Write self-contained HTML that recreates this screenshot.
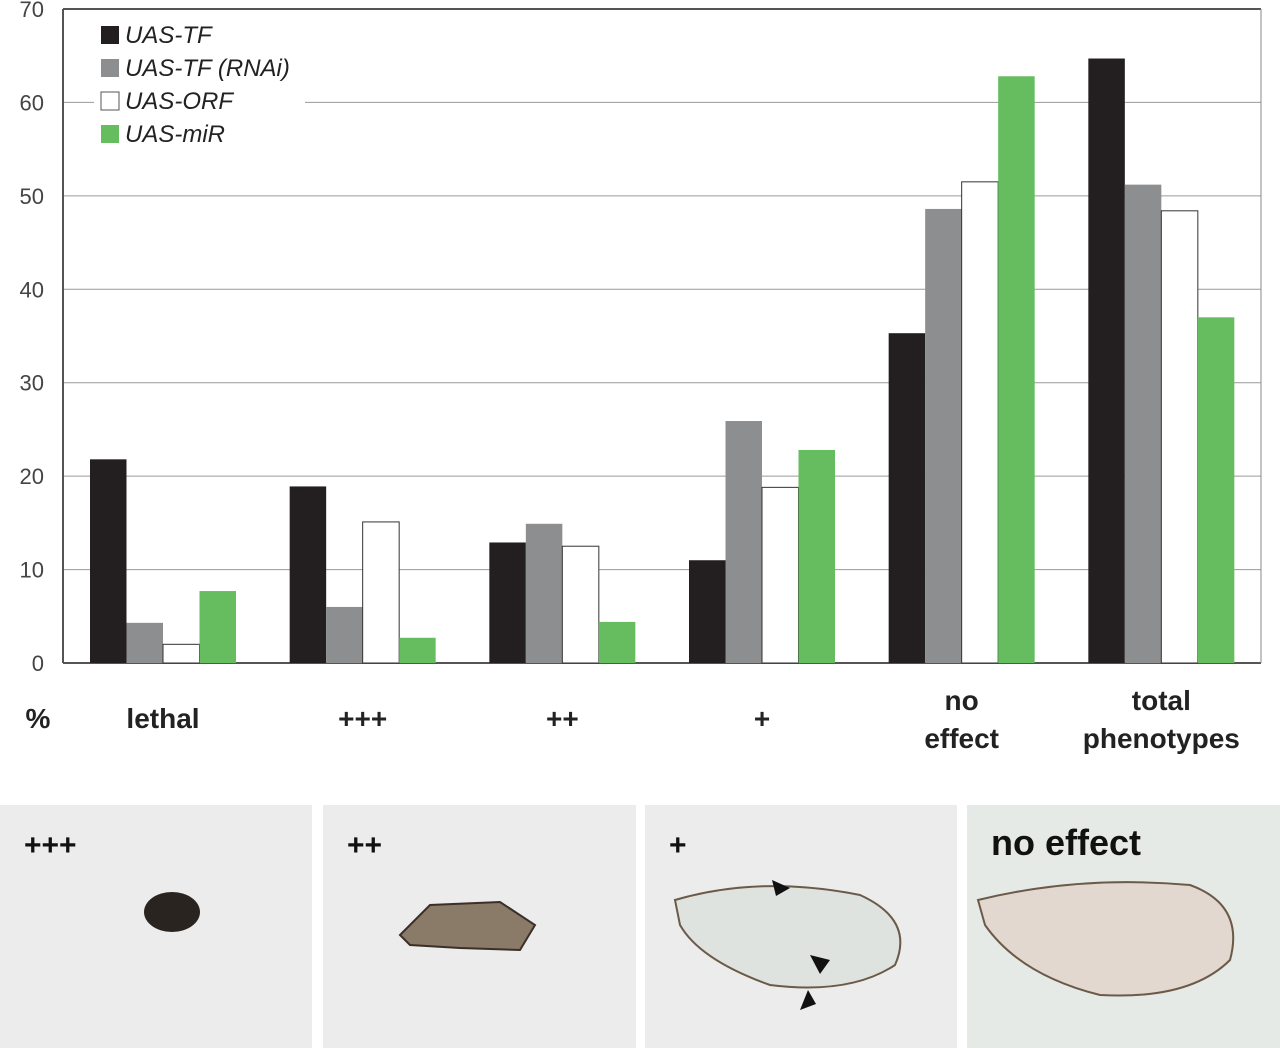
<!DOCTYPE html>
<html><head><meta charset="utf-8"><style>
body{margin:0;background:#fff;width:1280px;height:1048px;overflow:hidden;font-family:"Liberation Sans",sans-serif}
</style></head><body>
<svg id="chart" width="1280" height="1048" xmlns="http://www.w3.org/2000/svg" style="position:absolute;left:0;top:0">
<g id="grid"></g><g id="bars"></g><g id="labels"></g>
<g id="legend"></g>
<g id="panels"></g>
</svg>
<script>
const categories=[["lethal"],["+++"],["++"],["+"],["no","effect"],["total","phenotypes"]];
const seriesNames=["UAS-TF","UAS-TF (RNAi)","UAS-ORF","UAS-miR"];
const seriesTF=[21.8,18.9,12.9,11.0,35.3,64.7];
const seriesRNAi=[4.3,6.0,14.9,25.9,48.6,51.2];
const seriesORF=[2.0,15.1,12.5,18.8,51.5,48.4];
const seriesMiR=[7.7,2.7,4.4,22.8,62.8,37.0];
const yTicks=[0,10,20,30,40,50,60,70];
const series=[seriesTF,seriesRNAi,seriesORF,seriesMiR];
const fills=["#231f20","#8c8e90","#ffffff","#66bd5f"];
const NS="http://www.w3.org/2000/svg";
function mk(t,a,p){const e=document.createElementNS(NS,t);for(const k in a)e.setAttribute(k,a[k]);p.appendChild(e);return e;}
const X0=63,X1=1261,Y0=663,Y70=9;
const y=v=>Y0-(v/70)*(Y0-Y70);
const gw=(X1-X0)/categories.length;
const bw=36.5;
const x=(i,s)=>X0+i*gw+27+s*bw;
const grid=document.getElementById('grid');
yTicks.forEach(t=>{
 const l=mk('line',{x1:X0,x2:X1,y1:y(t),y2:y(t),stroke:t==0||t==70?'#555':'#9a9a9a','stroke-width':t==0||t==70?2:1},grid);
 
 const tx=mk('text',{x:44,y:y(t)+8,'text-anchor':'end','font-size':22,fill:'#444'},grid);tx.textContent=t;
 
});
mk('line',{x1:X0,x2:X0,y1:Y70,y2:Y0,stroke:'#555','stroke-width':2},grid);
mk('line',{x1:X1,x2:X1,y1:Y70,y2:Y0,stroke:'#888','stroke-width':1},grid);
const bars=document.getElementById('bars');
categories.forEach((c,i)=>{series.forEach((s,j)=>{
 const r=mk('rect',{x:x(i,j),y:y(s[i]),width:bw,height:Y0-y(s[i]),fill:fills[j],stroke:j==2?'#333':'none','stroke-width':1},bars);
 
});});
const labels=document.getElementById('labels');
const pc=mk('text',{x:38,y:728,'text-anchor':'middle','font-size':28,'font-weight':'bold',fill:'#222'},labels);pc.textContent='%';

categories.forEach((c,i)=>{
 const cx=X0+i*gw+100;
 c.forEach((w,k)=>{
  const yy=c.length==1?728:710+k*38;
  const t=mk('text',{x:cx,y:yy,'text-anchor':'middle','font-size':28,'font-weight':'bold',fill:'#222'},labels);t.textContent=w;
  
 });
});
const lg=document.getElementById('legend');
mk('rect',{x:94,y:15,width:211,height:135,fill:'#fff'},lg);
seriesNames.forEach((n,j)=>{
 const yy=26+j*33;
 mk('rect',{x:101,y:yy,width:18,height:18,fill:fills[j],stroke:j==2?'#555':'none'},lg);
 const t=mk('text',{x:125,y:yy+17,'font-size':24,'font-style':'italic',fill:'#222'},lg);t.textContent=n;
 
});
const pn=document.getElementById('panels');
const panels=[[0,312,'+++'],[323,313,'++'],[645,312,'+'],[967,313,'no effect']];
panels.forEach((p,i)=>{
 const g=mk('g',{},pn);
 mk('rect',{x:p[0],y:805,width:p[1],height:243,fill:i==3?'#e6eae6':'#ebeceb'},g);
 const t=mk('text',{x:p[0]+24,y:855,'font-size':i==3?36:30,'font-weight':'bold',fill:'#111'},g);t.textContent=p[2];
});
mk('ellipse',{cx:172,cy:912,rx:28,ry:20,fill:'#2a2420'},pn);
mk('path',{d:'M400,935 L430,905 L500,902 L535,925 L520,950 L460,948 L410,945 Z',fill:'#8a7a68',stroke:'#3a3028','stroke-width':2},pn);
mk('path',{d:'M675,900 Q760,875 860,895 Q915,920 895,965 Q850,995 770,985 Q700,960 680,925 Z',fill:'#dfe3e0',stroke:'#6b5a48','stroke-width':2},pn);
mk('path',{d:'M772,880 L790,888 L776,896 Z',fill:'#111'},pn);
mk('path',{d:'M810,955 L830,960 L820,974 Z',fill:'#111'},pn);
mk('path',{d:'M800,1010 L816,1004 L808,990 Z',fill:'#111'},pn);
mk('path',{d:'M978,900 Q1080,875 1190,885 Q1245,905 1230,960 Q1190,1000 1100,995 Q1020,975 985,925 Z',fill:'#e2d8d0',stroke:'#6b5a48','stroke-width':2},pn);
</script>
</body></html>
